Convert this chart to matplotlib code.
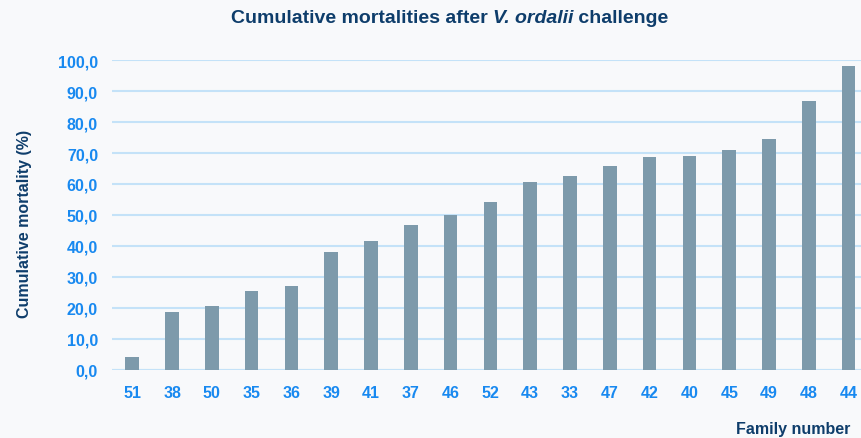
import matplotlib.pyplot as plt

# Data
families = ['51', '38', '50', '35', '36', '39', '41', '37', '46', '52',
            '43', '33', '47', '42', '40', '45', '49', '48', '44']
mortality = [4.2, 18.8, 20.7, 25.6, 27.2, 38.2, 41.7, 46.9, 50.1, 54.3,
             60.7, 62.6, 65.8, 68.7, 69.1, 71.0, 74.6, 86.8, 98.1]
yticks = [0, 10, 20, 30, 40, 50, 60, 70, 80, 90, 100]

navy = '#0e3d6b'
blue = '#1889f0'
grid = '#c4e2f8'
barc = '#7d9aab'

plt.rcParams['font.family'] = ['Liberation Sans', 'DejaVu Sans']

fig = plt.figure(figsize=(8.61, 4.39), dpi=100, facecolor='#f8f9fb')
ax = fig.add_axes([0.130, 0.155, 0.870, 0.706])
ax.set_facecolor('none')

x = range(len(families))
ax.bar(x, mortality, width=0.34, color=barc, zorder=3)

ax.set_xlim(-0.51, 18.31)
ax.set_ylim(0, 100)
ax.set_yticks(yticks)
ax.set_yticklabels([f'{v:.1f}'.replace('.', ',') for v in yticks])
ax.set_xticks(list(x))
ax.set_xticklabels(families)
for s in ax.spines.values():
    s.set_visible(False)
ax.grid(axis='y', color=grid, linewidth=1.5, zorder=0)
ax.axhline(0, color=grid, linewidth=2.2, zorder=1)
ax.tick_params(length=0, labelcolor=blue, labelsize=11.5)
ax.tick_params(axis='y', pad=10)
ax.tick_params(axis='x', pad=11)
for lb in ax.get_xticklabels() + ax.get_yticklabels():
    lb.set_fontweight('bold')

# title with italic species name
t1 = fig.text(0.268, 0.957, 'Cumulative mortalities after ', fontsize=14,
              fontweight='bold', color=navy, va='center', ha='left')
t2 = ax.annotate('V. ordalii', xy=(1, 0), xycoords=t1, va='bottom', ha='left',
                 fontsize=14, fontweight='bold', style='italic', color=navy)
ax.annotate(' challenge', xy=(1, 0), xycoords=t2, va='bottom', ha='left',
            fontsize=14, fontweight='bold', color=navy)

fig.text(0.028, 0.49, 'Cumulative mortality (%)', rotation=90, fontsize=11.5,
         fontweight='bold', color=navy, va='center', ha='center')
fig.text(0.988, 0.005, 'Family number', fontsize=11.5, fontweight='bold',
         color=navy, va='bottom', ha='right')

plt.savefig('out.png', dpi=100, facecolor=fig.get_facecolor())
